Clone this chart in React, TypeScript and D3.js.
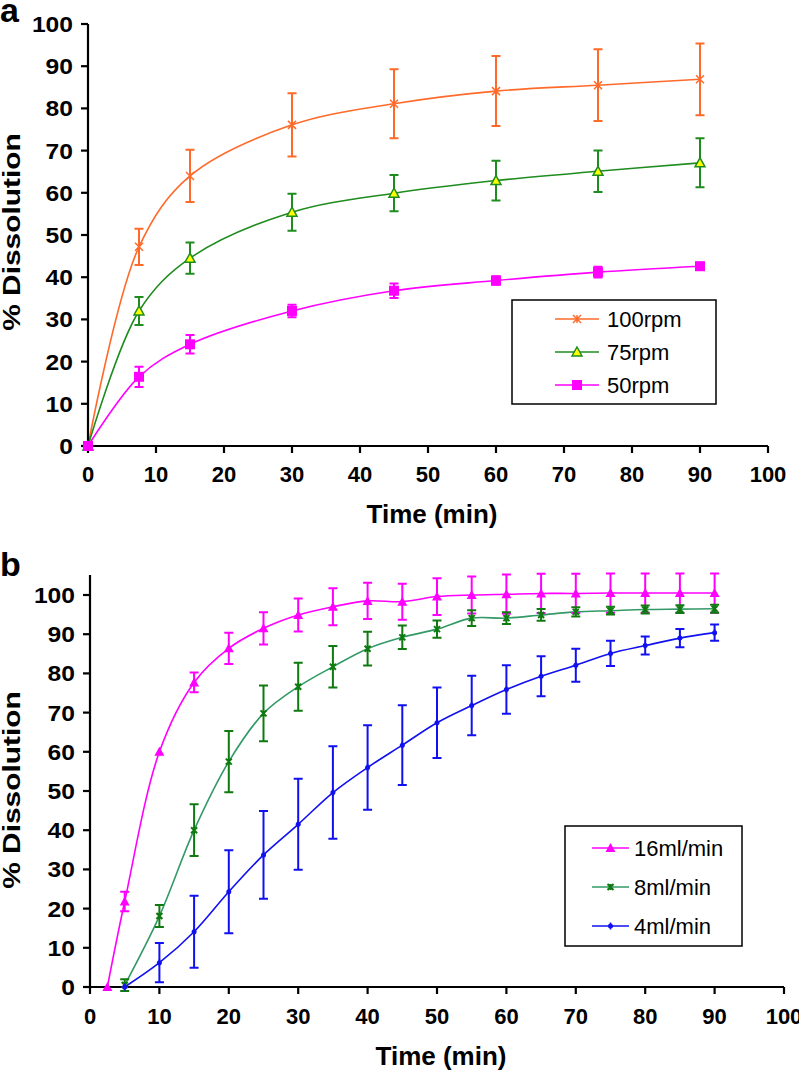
import React from "react";
import * as d3 from "d3";

// ---------- Panel a data ----------
const timeA = [0, 7.5, 15, 30, 45, 60, 75, 90];
const rpm100 = [0, 47.2, 64.0, 76.1, 81.1, 84.1, 85.5, 86.9];
const rpm100Err = [0, 4.3, 6.2, 7.5, 8.2, 8.3, 8.5, 8.5];
const rpm75 = [0, 32.0, 44.5, 55.4, 59.9, 62.9, 65.1, 67.1];
const rpm75Err = [0, 3.3, 3.7, 4.4, 4.3, 4.7, 4.9, 5.8];
const rpm50 = [0, 16.4, 24.1, 32.0, 36.8, 39.2, 41.2, 42.6];
const rpm50Err = [0, 2.4, 2.2, 1.5, 1.7, 1.0, 1.3, 0.8];
const legendA = ["100rpm", "75rpm", "50rpm"];

// ---------- Panel b data ----------
const time16 = [2.5, 5, 10, 15, 20, 25, 30, 35, 40, 45, 50, 55, 60, 65, 70, 75, 80, 85, 90];
const flow16 = [0, 21.8, 60.0, 77.7, 86.4, 91.5, 94.9, 97.0, 98.5, 98.3, 99.6, 100.0, 100.2, 100.4, 100.4, 100.5, 100.5, 100.5, 100.5];
const err16 = [0, 2.5, 0, 2.5, 4.0, 4.1, 4.2, 4.7, 4.6, 4.6, 4.7, 4.7, 5, 5, 5, 5, 5, 5, 5];
const time8 = [5, 10, 15, 20, 25, 30, 35, 40, 45, 50, 55, 60, 65, 70, 75, 80, 85, 90];
const flow8 = [0.5, 18.1, 40.0, 57.5, 69.8, 76.6, 81.7, 86.3, 89.2, 91.3, 94.1, 94.1, 94.9, 95.7, 96.0, 96.3, 96.4, 96.5];
const err8 = [1.5, 2.8, 6.6, 7.8, 7.1, 6.1, 5.3, 4.3, 3.0, 2.2, 2.0, 1.5, 1.5, 1.2, 1.0, 1.0, 1.0, 1.0];
const time4 = [5, 10, 15, 20, 25, 30, 35, 40, 45, 50, 55, 60, 65, 70, 75, 80, 85, 90];
const flow4 = [0, 6.2, 14.1, 24.3, 33.7, 41.5, 49.6, 56.0, 61.7, 67.4, 71.8, 75.9, 79.3, 82.1, 85.1, 87.1, 89.0, 90.4];
const err4 = [0, 5, 9.2, 10.6, 11.2, 11.6, 11.8, 10.8, 10.2, 9.0, 7.6, 6.2, 5.1, 4.2, 3.2, 2.3, 2.3, 2.1];
const legendB = ["16ml/min", "8ml/min", "4ml/min"];

const xTicks = [0, 10, 20, 30, 40, 50, 60, 70, 80, 90, 100];
const yTicks = [0, 10, 20, 30, 40, 50, 60, 70, 80, 90, 100];

const FONT = "'Liberation Sans', Arial, sans-serif";

type Series = {
  name: string;
  x: number[];
  y: number[];
  err: number[];
  line: string;
  bar: string;
  marker: string;
};

function Marker({ kind, cx, cy }: { kind: string; cx: number; cy: number }) {
  if (kind === "star") {
    const s = 4;
    return (
      <path
        d={`M${cx - s},${cy - s}L${cx + s},${cy + s}M${cx - s},${cy + s}L${cx + s},${cy - s}M${cx},${cy - s}L${cx},${cy + s}`}
        stroke="#ff6a2a"
        strokeWidth={1.5}
        fill="none"
      />
    );
  }
  if (kind === "triY") {
    const s = 5;
    return (
      <path
        d={`M${cx},${cy - s}L${cx + s},${cy + s * 0.8}L${cx - s},${cy + s * 0.8}Z`}
        fill="#ffff00"
        stroke="#1e8c1e"
        strokeWidth={1.5}
      />
    );
  }
  if (kind === "square") {
    return <rect x={cx - 5} y={cy - 5} width={10} height={10} fill="#ff00ff" />;
  }
  if (kind === "triM") {
    const s = 5;
    return <path d={`M${cx},${cy - s}L${cx + s},${cy + s * 0.8}L${cx - s},${cy + s * 0.8}Z`} fill="#ff00ff" />;
  }
  if (kind === "starG") {
    const s = 3;
    return (
      <path
        d={`M${cx - s},${cy - s}L${cx + s},${cy + s}M${cx - s},${cy + s}L${cx + s},${cy - s}M${cx},${cy - s}L${cx},${cy + s}`}
        stroke="#0f7a0f"
        strokeWidth={2}
        fill="none"
      />
    );
  }
  return (
    <g>
      <circle cx={cx} cy={cy} r={2.5} fill="#1010f0" />
      <path d={`M${cx},${cy - 3.5}L${cx},${cy + 3.5}`} stroke="#1010f0" strokeWidth={1.5} />
    </g>
  );
}

function Panel({
  label,
  labelY,
  xRange,
  yRange,
  axisTop,
  series,
  legend,
  tickLabelY,
  titleY,
  yTitleY,
}: {
  label: string;
  labelY: number;
  xRange: [number, number];
  yRange: [number, number];
  axisTop: number;
  series: Series[];
  legend: { x: number; y: number; w: number; h: number; rows: number[]; lineX: number; lineW: number; textX: number };
  tickLabelY: number;
  titleY: number;
  yTitleY: number;
}) {
  const x = d3.scaleLinear().domain([0, 100]).range(xRange);
  const y = d3.scaleLinear().domain([0, 100]).range(yRange);
  const line = d3
    .line<[number, number]>()
    .x((d) => x(d[0]))
    .y((d) => y(d[1]))
    .curve(d3.curveCatmullRom.alpha(0.5));
  const x0 = x(0);
  const y0 = y(0);
  return (
    <g>
      <text x={0} y={labelY} fontFamily={FONT} fontWeight="bold" fontSize={34}>
        {label}
      </text>
      {series.map((s) => (
        <path
          key={s.name + "l"}
          d={line(s.x.map((v, i) => [v, s.y[i]]) as [number, number][]) || ""}
          fill="none"
          stroke={s.line}
          strokeWidth={1.6}
        />
      ))}
      {series.map((s) =>
        s.x.map((v, i) =>
          s.err[i] > 0 ? (
            <path
              key={s.name + "e" + i}
              d={`M${x(v)},${y(s.y[i] - s.err[i])}L${x(v)},${y(s.y[i] + s.err[i])}M${x(v) - 4.5},${y(
                s.y[i] - s.err[i]
              )}L${x(v) + 4.5},${y(s.y[i] - s.err[i])}M${x(v) - 4.5},${y(s.y[i] + s.err[i])}L${x(v) + 4.5},${y(
                s.y[i] + s.err[i]
              )}`}
              stroke={s.bar}
              strokeWidth={2}
              fill="none"
            />
          ) : null
        )
      )}
      <path d={`M${x0},${axisTop}L${x0},${y0}`} stroke="#000" strokeWidth={2.2} />
      <path d={`M${x0 - 7},${y0}L${x(100)},${y0}`} stroke="#000" strokeWidth={2.2} />
      {yTicks.map((t) => (
        <g key={"yt" + t}>
          <path d={`M${x0 - 7},${y(t)}L${x0},${y(t)}`} stroke="#000" strokeWidth={2.2} />
          <text
            transform={`translate(${x0 - 15},${y(t)}) scale(1.12,1)`}
            dy="0.36em"
            textAnchor="end"
            fontFamily={FONT}
            fontWeight="bold"
            fontSize={22}
          >
            {t}
          </text>
        </g>
      ))}
      {xTicks.map((t) => (
        <g key={"xt" + t}>
          <path d={`M${x(t)},${y0}L${x(t)},${y0 + 7}`} stroke="#000" strokeWidth={2.2} />
          <text x={x(t)} y={tickLabelY} textAnchor="middle" fontFamily={FONT} fontWeight="bold" fontSize={22}>
            {t}
          </text>
        </g>
      ))}
      <text
        x={(xRange[0] + xRange[1]) / 2 + 4}
        y={titleY}
        textAnchor="middle"
        fontFamily={FONT}
        fontWeight="bold"
        fontSize={26}
      >
        Time (min)
      </text>
      <text
        transform={`translate(20,${yTitleY}) rotate(-90) scale(1.3,1)`}
        textAnchor="middle"
        fontFamily={FONT}
        fontWeight="bold"
        fontSize={23}
      >
        % Dissolution
      </text>
      {series.map((s) => s.x.map((v, i) => <Marker key={s.name + "m" + i} kind={s.marker} cx={x(v)} cy={y(s.y[i])} />))}
      <rect x={legend.x} y={legend.y} width={legend.w} height={legend.h} fill="#fff" stroke="#000" strokeWidth={1.5} />
      {series.map((s, i) => (
        <g key={s.name + "lg"}>
          <path
            d={`M${legend.lineX},${legend.rows[i]}L${legend.lineX + legend.lineW},${legend.rows[i]}`}
            stroke={s.line}
            strokeWidth={1.6}
          />
          <Marker kind={s.marker} cx={legend.lineX + legend.lineW / 2} cy={legend.rows[i]} />
          <text x={legend.textX} y={legend.rows[i]} dy="0.36em" fontFamily={FONT} fontSize={22}>
            {s.name}
          </text>
        </g>
      ))}
    </g>
  );
}

export default function App() {
  const seriesA: Series[] = [
    { name: legendA[0], x: timeA, y: rpm100, err: rpm100Err, line: "#ff6a2a", bar: "#ff6a2a", marker: "star" },
    { name: legendA[1], x: timeA, y: rpm75, err: rpm75Err, line: "#1e8c1e", bar: "#1e8c1e", marker: "triY" },
    { name: legendA[2], x: timeA, y: rpm50, err: rpm50Err, line: "#ff00ff", bar: "#ff00ff", marker: "square" },
  ];
  const seriesB: Series[] = [
    { name: legendB[0], x: time16, y: flow16, err: err16, line: "#ff00ff", bar: "#ff00ff", marker: "triM" },
    { name: legendB[1], x: time8, y: flow8, err: err8, line: "#339966", bar: "#0f7a0f", marker: "starG" },
    { name: legendB[2], x: time4, y: flow4, err: err4, line: "#1010f0", bar: "#1010f0", marker: "plus" },
  ];
  return (
    <svg width={799} height={1071} style={{ position: "absolute", left: 0, top: 0, background: "#fff" }}>
      <rect width={799} height={1071} fill="#fff" />
      <Panel
        label="a"
        labelY={22}
        xRange={[88, 768]}
        yRange={[446, 24]}
        axisTop={24}
        series={seriesA}
        legend={{ x: 512, y: 300, w: 204, h: 104, rows: [319, 352, 385], lineX: 555, lineW: 44, textX: 607 }}
        tickLabelY={482}
        titleY={523}
        yTitleY={232}
      />
      <Panel
        label="b"
        labelY={576}
        xRange={[90, 784]}
        yRange={[987, 595]}
        axisTop={575}
        series={seriesB}
        legend={{ x: 565, y: 826, w: 177, h: 120, rows: [848, 887, 926], lineX: 592, lineW: 37, textX: 634 }}
        tickLabelY={1024}
        titleY={1065}
        yTitleY={790}
      />
    </svg>
  );
}
